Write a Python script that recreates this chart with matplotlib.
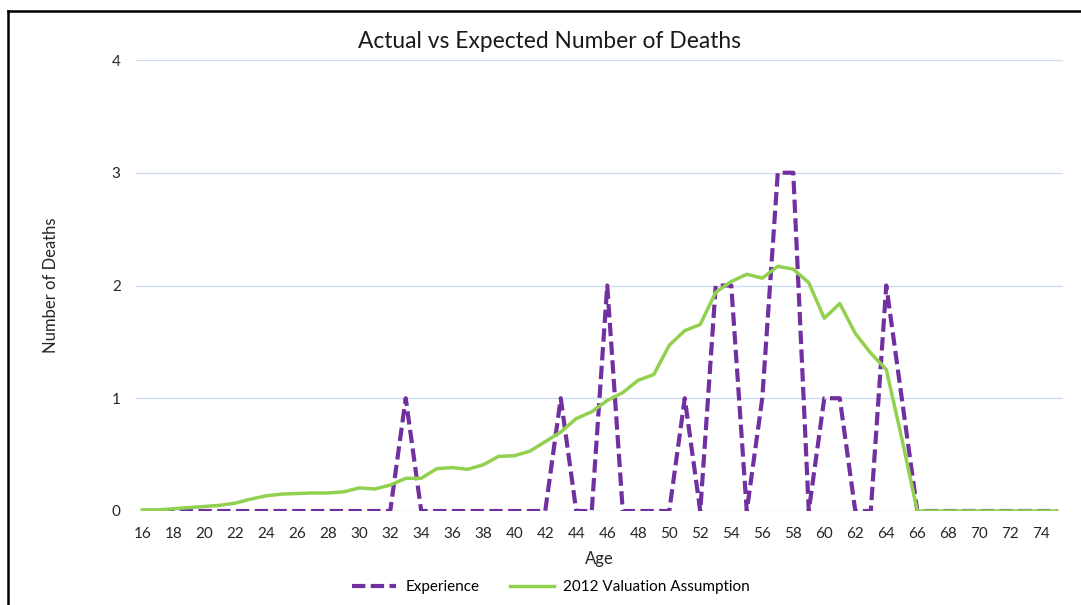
import matplotlib
matplotlib.use("Agg")
import matplotlib.pyplot as plt
from matplotlib.lines import Line2D

ages = list(range(16, 76))
experience = [0]*17 + [1] + [0]*9 + [1, 0, 0, 2, 0, 0, 0, 0, 1, 0, 2, 2, 0, 1, 3, 3, 0, 1, 1, 0, 0, 2, 1] + [0]*10
valuation = [0.01, 0.01, 0.02, 0.03, 0.04, 0.05, 0.07, 0.105, 0.135, 0.15,
             0.155, 0.16, 0.16, 0.17, 0.205, 0.195, 0.23, 0.29, 0.29, 0.375,
             0.385, 0.37, 0.41, 0.485, 0.49, 0.53, 0.615, 0.70, 0.82, 0.88,
             0.98, 1.05, 1.16, 1.21, 1.47, 1.60, 1.655, 1.94, 2.035, 2.10,
             2.065, 2.17, 2.145, 2.025, 1.71, 1.84, 1.575, 1.40, 1.255, 0.645,
             0, 0, 0, 0, 0, 0, 0, 0, 0, 0]
x_ticks = list(range(16, 76, 2))
y_ticks = [0, 1, 2, 3, 4]

plt.rcParams['font.family'] = ['Lato', 'DejaVu Sans']

W, H = 1081, 605
fig = plt.figure(figsize=(W/100, H/100), dpi=100)
ax = fig.add_axes([136/W, 1 - 511/H, (1063-136)/W, (511-60)/H])

purple = '#7030A0'
green = '#92D050'
grid_c = '#D0DCF5'
p_lw = 3.0
p_dash = (3.2, 1.3)

ax.plot(ages, experience, color=purple, lw=p_lw, dashes=p_dash, dash_capstyle='butt', zorder=3)
ax.plot(ages, valuation, color=green, lw=2.5, zorder=4)

ax.set_xlim(15.6, 75.4)
ax.set_ylim(0, 4)
ax.set_xticks(x_ticks)
ax.set_yticks(y_ticks)
ax.tick_params(axis='both', length=0, labelsize=11, colors='#404040', labelcolor='#262626')
ax.tick_params(axis='x', pad=11.5)
ax.tick_params(axis='y', pad=11)
for s in ax.spines.values():
    s.set_visible(False)
ax.grid(axis='y', color=grid_c, lw=1)
ax.set_axisbelow(True)

ax.set_xlabel('Age', fontsize=12, color='#262626', labelpad=7)
ax.set_ylabel('Number of Deaths', fontsize=12, color='#262626', labelpad=38)

fig.text(549/W, 1 - 41/H, 'Actual vs Expected Number of Deaths', fontsize=16.4,
         ha='center', va='center', color='#1a1a1a')

handles = [Line2D([0], [0], color=purple, lw=p_lw, dashes=p_dash, dash_capstyle='butt'),
           Line2D([0], [0], color=green, lw=2.5)]
fig.legend(handles, ['Experience', '2012 Valuation Assumption'], loc='center',
           bbox_to_anchor=(551/W, 1 - 587/H), ncol=2, frameon=False, fontsize=11,
           handlelength=2.9, columnspacing=2.0, handletextpad=0.6)

# outer frame (left and top)
fig.add_artist(Line2D([8/W, 8/W], [0, 1 - 11/H], transform=fig.transFigure, color='black', lw=1.8))
fig.add_artist(Line2D([8/W, 1], [1 - 11/H, 1 - 11/H], transform=fig.transFigure, color='black', lw=1.8))

fig.savefig('out.png', dpi=100)
